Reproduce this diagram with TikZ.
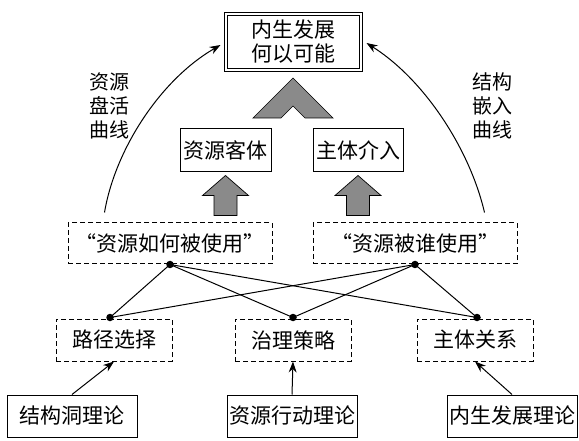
\documentclass[tikz,border=0pt]{standalone}
\usepackage{fontspec}
\newfontfamily\cjk{Noto Sans CJK SC}
\usetikzlibrary{arrows.meta,calc}
\definecolor{arrowgray}{RGB}{138,138,138}
\begin{document}
\begin{tikzpicture}[x=1pt,y=-1pt,
  every node/.style={font=\cjk\fontsize{21}{24}\selectfont, inner sep=0pt, align=center},
  solidbox/.style={draw, line width=1pt, minimum height=42pt, minimum width=#1},
  dashbox/.style={draw, line width=1pt, dash pattern=on 5pt off 3pt, minimum height=41pt, minimum width=#1},
  sidelabel/.style={font=\cjk\fontsize{20}{24}\selectfont},
  conn/.style={line width=1pt},
  arr/.style={line width=1pt, -{Stealth[length=11pt,width=8pt]}},
  dot/.style={circle, fill=black, inner sep=0pt, minimum size=7.5pt},
  block/.style={fill=arrowgray, draw=black, line width=0.7pt}
]
\useasboundingbox (0,0) rectangle (579,441);

% top box
\node[draw, line width=1pt, double, double distance=2.4pt, minimum width=135pt, minimum height=56pt] (top) at (293.5,42) {内生发展\\何以可能};

% middle solid boxes
\node[solidbox=91pt, minimum height=43pt] (obj) at (225.5,150.5) {资源客体};
\node[solidbox=90pt, minimum height=43pt] (sub) at (358,150.5) {主体介入};

% dashed boxes row 2
\node[dashbox=204pt] (how) at (170,243.5) {“资源如何被使用”};
\node[dashbox=204pt] (who) at (415,243.5) {“资源被谁使用”};

% dashed boxes row 3
\node[dashbox=116pt, minimum height=42pt] (path) at (114,340) {路径选择};
\node[dashbox=116pt, minimum height=42pt] (gov) at (293,340) {治理策略};
\node[dashbox=116pt, minimum height=42pt] (rel) at (475,340) {主体关系};

% bottom theory boxes
\node[solidbox=130pt] (t1) at (72,416) {结构洞理论};
\node[solidbox=130pt] (t2) at (292,416) {资源行动理论};
\node[solidbox=130pt] (t3) at (512,416) {内生发展理论};

% side labels
\node[sidelabel] (lab1) at (109,106) {资源\\盘活\\曲线};
\node[sidelabel] (lab2) at (492,106) {结构\\嵌入\\曲线};

% dots
\node[dot] (d1) at (how.south) {};
\node[dot] (d2) at (who.south) {};
\node[dot] (e1) at ($(path.north)+(-4,-1)$) {};
\node[dot] (e2) at ($(gov.north)+(0,-1)$) {};
\node[dot] (e3) at ($(rel.north)+(2,-1)$) {};

% crossing connectors
\draw[conn] (d1.center) -- (e1.center);
\draw[conn] (d1.center) -- (e2.center);
\draw[conn] (d1.center) -- (e3.center);
\draw[conn] (d2.center) -- (e1.center);
\draw[conn] (d2.center) -- (e2.center);
\draw[conn] (d2.center) -- (e3.center);

% theory arrows
\draw[arr] (t1.north) -- (path.south);
\draw[arr] (t2.north) -- (gov.south);
\draw[arr] (t3.north) -- (rel.south);

% curves
\coordinate (c1s) at ($(how.north west)+(37,-10)$);
\coordinate (c1e) at ($(top.west)+(-5,3)$);
\draw[arr] (c1s) .. controls (115,150) and (160,80) .. (c1e);
\coordinate (c2s) at ($(who.north east)+(-33,-10)$);
\coordinate (c2e) at ($(top.east)+(5,1)$);
\draw[arr] (c2s) .. controls (470,150) and (425,80) .. (c2e);

% block arrows
\draw[block, shift={(obj.south)}] (-11.5,43) -- (-11.5,23) -- (-23,23) -- (0,3) -- (23,23) -- (11.5,23) -- (11.5,43) -- cycle;
\draw[block, shift={(sub.south)}] (-11.5,43) -- (-11.5,23) -- (-23,23) -- (0,3) -- (23,23) -- (11.5,23) -- (11.5,43) -- cycle;

% chevron
\draw[block] (253,118) -- (293,78) -- (333,118) -- (305,118) -- (293,106) -- (281,118) -- cycle;
\end{tikzpicture}
\end{document}
